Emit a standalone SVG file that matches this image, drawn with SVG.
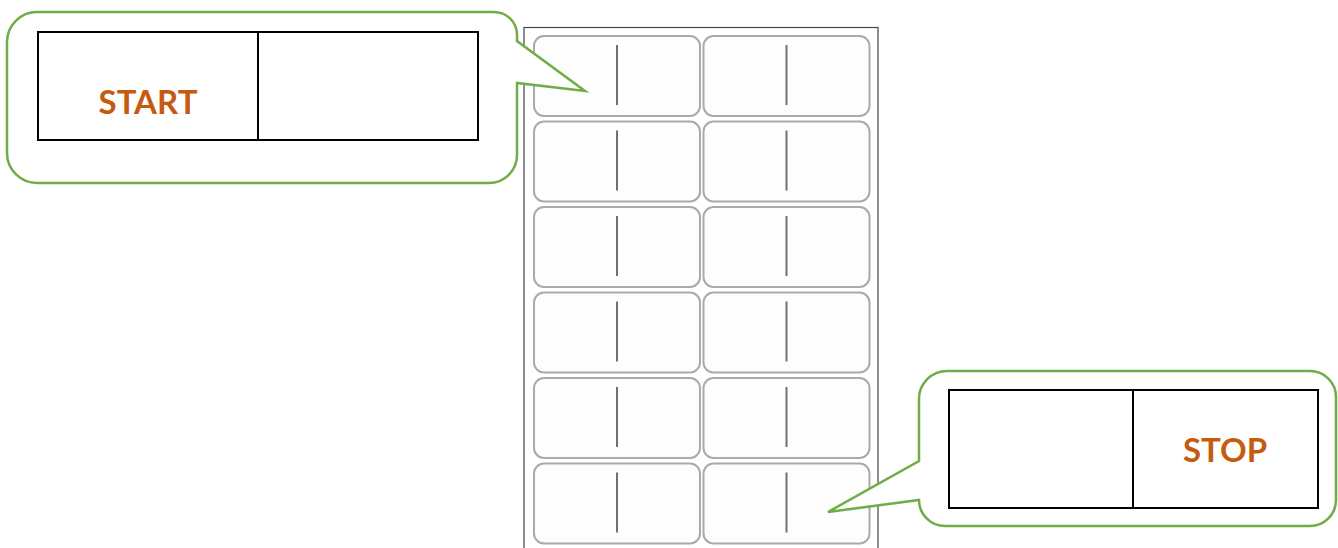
<svg xmlns="http://www.w3.org/2000/svg" width="1338" height="548" viewBox="0 0 1338 548">
<style>
.callout{fill:#ffffff;stroke:#70AD47;stroke-width:2.5;stroke-linejoin:miter}
.box{fill:#ffffff;stroke:#000000;stroke-width:2}
.div{stroke:#000000;stroke-width:2}
.lbl{font-family:Lato,"Liberation Sans",sans-serif;font-weight:bold;font-size:33px;fill:#C55A11;text-anchor:middle}
.page{fill:#ffffff;stroke:#444444;stroke-width:1.2}
.label{fill:#fdfdfd;stroke:#aaaaaa;stroke-width:2}
.mark{stroke:#707070;stroke-width:2}
</style>
<defs>
<g id="tag">
<rect class="label" x="0" y="0" width="166" height="80" rx="10" ry="10"/>
<line class="mark" x1="83" y1="9" x2="83" y2="69"/>
</g>
</defs>
<g id="page">
<rect class="page" x="524" y="27.5" width="354" height="530"/>
<use href="#tag" x="534" y="36"/>
<use href="#tag" x="703.5" y="36"/>
<use href="#tag" x="534" y="121.5"/>
<use href="#tag" x="703.5" y="121.5"/>
<use href="#tag" x="534" y="207"/>
<use href="#tag" x="703.5" y="207"/>
<use href="#tag" x="534" y="292.5"/>
<use href="#tag" x="703.5" y="292.5"/>
<use href="#tag" x="534" y="378"/>
<use href="#tag" x="703.5" y="378"/>
<use href="#tag" x="534" y="463.5"/>
<use href="#tag" x="703.5" y="463.5"/>
</g>
<g id="connectors">
</g>
<g id="start-callout">
<path class="callout" d="M37,12 H494 A23,23 0 0 1 517,35 V41 L585,91 L517,83 V155 A28,28 0 0 1 489,183 H37 A30,30 0 0 1 7,153 V42 A30,30 0 0 1 37,12 Z"/>
<rect class="box" x="38" y="32" width="440" height="108"/>
<line class="div" x1="258" y1="32" x2="258" y2="140"/>
<text class="lbl" x="148" y="114">START</text>
</g>
<g id="stop-callout">
<path class="callout" d="M947,371 H1310 A26,26 0 0 1 1336,397 V500 A26,26 0 0 1 1310,526 H945 A26,26 0 0 1 919,500 L828,512 L919,461 V399 A28,28 0 0 1 947,371 Z"/>
<rect class="box" x="949" y="390" width="369" height="118"/>
<line class="div" x1="1133" y1="390" x2="1133" y2="508"/>
<text class="lbl" x="1225" y="462">STOP</text>
</g>
</svg>
